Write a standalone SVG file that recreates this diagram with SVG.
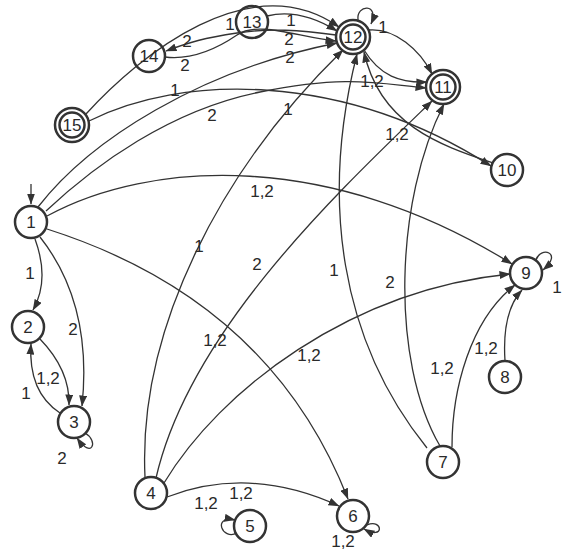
<svg xmlns="http://www.w3.org/2000/svg" width="562" height="550" viewBox="0 0 562 550">
  <style>
    .node circle { fill: none; stroke: #333; stroke-width: 2.5; }
    .node text, .lbl { font-family: "Liberation Sans", Arial, sans-serif; font-size: 17px; fill: #2a2a2a; text-anchor: middle; }
    .edge { fill: none; stroke: #333; stroke-width: 1.3; marker-end: url(#ah); }
  </style>
  <defs>
    <marker id="ah" markerWidth="11" markerHeight="8" refX="10.5" refY="4" orient="auto" markerUnits="userSpaceOnUse">
      <path d="M0,0 L11,4 L0,8 z" fill="#333"/>
    </marker>
  </defs>
  <rect width="562" height="550" fill="#fff"/>

  <!-- transitions -->
  <g id="edges">
    <path class="edge" d="M31,184 L31,204"/>
    <path class="edge" d="M35,239 Q50,280 33,310"/>
    <path class="edge" d="M40,237 C70,275 90,330 82,406"/>
    <path class="edge" d="M40,339 Q70,370 69,405"/>
    <path class="edge" d="M60,413 Q28,392 31,344"/>
    <path class="edge" d="M85,433 C99,441 92,460 77,438"/>
    <path class="edge" d="M47,229 Q270,300 348,499"/>
    <path class="edge" d="M47,216 C150,160 330,150 512,264"/>
    <path class="edge" d="M38,207 C90,140 200,70 337,43"/>
    <path class="edge" d="M46,211 C95,165 170,110 260,92 C350,74 380,84 426,88"/>
    <path class="edge" d="M86,114 C140,55 250,-35 339,27"/>
    <path class="edge" d="M89,121 C180,75 340,70 491,166"/>
    <path class="edge" d="M267,16 Q300,8 337,31"/>
    <path class="edge" d="M336,35 C300,30 270,28 237,33 C204,38 190,42 166,51"/>
    <path class="edge" d="M165,57 C190,60 215,50 237,35 C259,20 300,38 336,41"/>
    <path class="edge" d="M145,477 C138,330 220,170 343,50"/>
    <path class="edge" d="M156,478 C190,330 340,190 432,101"/>
    <path class="edge" d="M164,483 C220,390 350,290 510,274"/>
    <path class="edge" d="M167,497 Q250,465 339,506"/>
    <path class="edge" d="M237,533 C222,541 212,515 235,520"/>
    <path class="edge" d="M367,525 C383,518 385,541 364,529"/>
    <path class="edge" d="M427,448 C340,340 320,200 357,54"/>
    <path class="edge" d="M440,446 C390,360 395,200 444,104"/>
    <path class="edge" d="M452,447 C452,390 470,320 515,285"/>
    <path class="edge" d="M505,361 C503,330 508,305 522,290"/>
    <path class="edge" d="M536,260 C540,246 564,252 543,270"/>
    <path class="edge" d="M493,163 C440,145 380,125 364,52"/>
    <path class="edge" d="M369,30 C395,28 420,50 432,74"/>
    <path class="edge" d="M364,50 C380,76 400,83 427,82"/>
    <path class="edge" d="M358,20 C356,4 380,3 371,24"/>
  </g>

  <!-- transition labels -->
  <g id="edge-labels">
    <text class="lbl" x="230" y="30">1</text>
    <text class="lbl" x="291" y="26">1</text>
    <text class="lbl" x="289" y="45">2</text>
    <text class="lbl" x="290" y="63">2</text>
    <text class="lbl" x="383" y="33">1</text>
    <text class="lbl" x="187" y="47">2</text>
    <text class="lbl" x="185" y="71">2</text>
    <text class="lbl" x="175" y="96">1</text>
    <text class="lbl" x="212" y="121">2</text>
    <text class="lbl" x="372" y="87">1,2</text>
    <text class="lbl" x="288" y="115">1</text>
    <text class="lbl" x="397" y="140">1,2</text>
    <text class="lbl" x="262" y="197">1,2</text>
    <text class="lbl" x="30" y="279">1</text>
    <text class="lbl" x="73" y="335">2</text>
    <text class="lbl" x="48" y="384">1,2</text>
    <text class="lbl" x="26" y="399">1</text>
    <text class="lbl" x="62" y="464">2</text>
    <text class="lbl" x="199" y="252">1</text>
    <text class="lbl" x="257" y="270">2</text>
    <text class="lbl" x="334" y="276">1</text>
    <text class="lbl" x="390" y="288">2</text>
    <text class="lbl" x="215" y="346">1,2</text>
    <text class="lbl" x="309" y="361">1,2</text>
    <text class="lbl" x="442" y="374">1,2</text>
    <text class="lbl" x="486" y="354">1,2</text>
    <text class="lbl" x="557" y="293">1</text>
    <text class="lbl" x="241" y="499">1,2</text>
    <text class="lbl" x="206" y="509">1,2</text>
    <text class="lbl" x="343" y="547">1,2</text>
  </g>

  <!-- states -->
  <g id="n1" class="node"><circle cx="31" cy="222" r="16"/><text x="31" y="228">1</text></g>
  <g id="n2" class="node"><circle cx="28" cy="327" r="16"/><text x="28" y="333">2</text></g>
  <g id="n3" class="node"><circle cx="74" cy="422" r="16"/><text x="74" y="428">3</text></g>
  <g id="n4" class="node"><circle cx="151" cy="493" r="16"/><text x="151" y="499">4</text></g>
  <g id="n5" class="node"><circle cx="250" cy="526" r="16"/><text x="250" y="532">5</text></g>
  <g id="n6" class="node"><circle cx="353" cy="516" r="16"/><text x="353" y="522">6</text></g>
  <g id="n7" class="node"><circle cx="443" cy="462" r="16"/><text x="443" y="468">7</text></g>
  <g id="n8" class="node"><circle cx="505" cy="377" r="16"/><text x="505" y="383">8</text></g>
  <g id="n9" class="node"><circle cx="526" cy="273" r="16"/><text x="526" y="279">9</text></g>
  <g id="n10" class="node"><circle cx="507" cy="170" r="16"/><text x="507" y="176">10</text></g>
  <g id="n11" class="node"><circle cx="443" cy="87" r="17"/><circle cx="443" cy="87" r="12.5"/><text x="443" y="93">11</text></g>
  <g id="n12" class="node"><circle cx="353" cy="37" r="17"/><circle cx="353" cy="37" r="12.5"/><text x="353" y="43">12</text></g>
  <g id="n13" class="node"><circle cx="252" cy="22" r="16"/><text x="252" y="28">13</text></g>
  <g id="n14" class="node"><circle cx="149" cy="56" r="16"/><text x="149" y="62">14</text></g>
  <g id="n15" class="node"><circle cx="72" cy="125" r="17"/><circle cx="72" cy="125" r="12.5"/><text x="72" y="131">15</text></g>
</svg>
